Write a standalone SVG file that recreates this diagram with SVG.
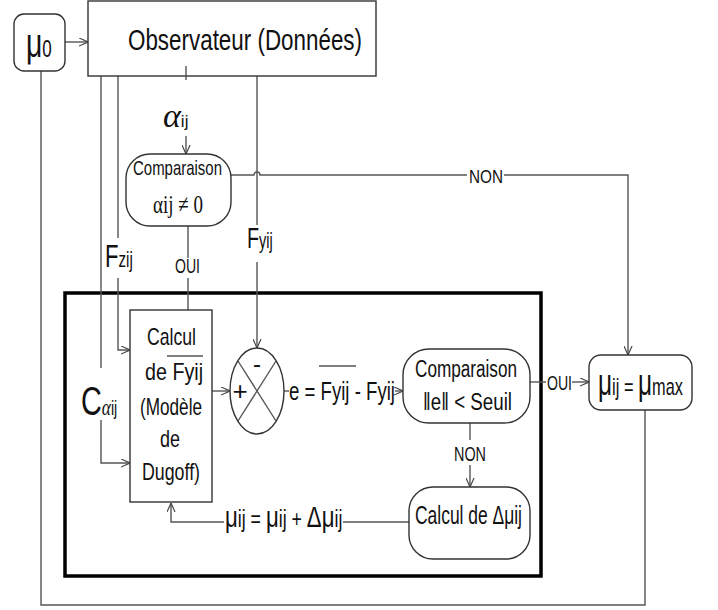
<svg xmlns="http://www.w3.org/2000/svg" width="718" height="610" viewBox="0 0 718 610">
<defs>
<marker id="arr" viewBox="0 0 10 10" refX="10" refY="5" markerWidth="9" markerHeight="9" orient="auto" markerUnits="userSpaceOnUse"><path d="M0,0.5 L10,5 L0,9.5" fill="none" stroke="#444" stroke-width="1.3"/></marker>
</defs>
<style>
.box{fill:#fff;stroke:#333;stroke-width:1.4}
.ln{fill:none;stroke:#555;stroke-width:1.4}
.ar{fill:none;stroke:#555;stroke-width:1.4;marker-end:url(#arr)}
text{font-family:"Liberation Sans",Arial,sans-serif;fill:#111}
.sr{font-family:"Liberation Serif","Times New Roman",serif}
</style>
<rect width="718" height="610" fill="#fff"/>
<g id="frame"><rect x="65" y="293" width="476" height="283" fill="none" stroke="#000" stroke-width="3.5"/></g>
<g id="connectors">
<path class="ar" d="M65,42 H88"/>
<path class="ln" d="M41,71 V605 H645 V410"/>
<path class="ln" d="M101,76 V368"/>
<path class="ar" d="M101,420 V463 H130"/>
<path class="ln" d="M118,76 V238"/>
<path class="ar" d="M118,278 V350 H130"/>
<path class="ln" d="M186,66 V80"/>
<path class="ar" d="M186,136 V154"/>
<path class="ln" d="M257,76 V225"/>
<path class="ar" d="M257,262 V348"/>
<path class="ln" d="M231,175 H254 a3,3 0 0 1 6,0 H467"/>
<path class="ar" d="M504,175 H628 V355"/>
<path class="ln" d="M188,226 V258"/>
<path class="ln" d="M188,278 V310"/>
<path class="ar" d="M212,391 H230"/>
<path class="ln" d="M284,391 H289"/>
<path class="ar" d="M395,391 H403"/>
<path class="ln" d="M530,382 H546"/>
<path class="ar" d="M572,382 H589"/>
<path class="ln" d="M470,423 V440"/>
<path class="ar" d="M470,465 V487"/>
<path class="ln" d="M409,522 H343"/>
<path class="ar" d="M224,522 H171 V503"/>
<text x="163" y="127"><tspan class="sr" font-size="34" font-style="italic">α</tspan><tspan font-size="17">ij</tspan></text>
<text transform="translate(105,267) scale(0.69,1)"><tspan font-size="32">F</tspan><tspan font-size="22">zij</tspan></text>
<text transform="translate(247,248) scale(0.66,1)"><tspan font-size="30">F</tspan><tspan font-size="22">yij</tspan></text>
<text transform="translate(81,415) scale(0.72,1)"><tspan font-size="40">C</tspan><tspan class="sr" font-size="24" font-style="italic">α</tspan><tspan font-size="20">ij</tspan></text>
<text x="486" y="183" font-size="19" text-anchor="middle" textLength="34" lengthAdjust="spacingAndGlyphs">NON</text>
<text x="175" y="273" font-size="20" textLength="25" lengthAdjust="spacingAndGlyphs">OUI</text>
<text x="547" y="390" font-size="20" textLength="25" lengthAdjust="spacingAndGlyphs">OUI</text>
<text x="454" y="461" font-size="20" textLength="32" lengthAdjust="spacingAndGlyphs">NON</text>
<text x="289" y="400" font-size="26" textLength="106" lengthAdjust="spacingAndGlyphs">e = Fyij - Fyij</text>
<path class="ln" d="M319,366 H356"/>
<text transform="translate(225,527) scale(0.74,1)"><tspan font-size="30">μ</tspan><tspan font-size="24">ij = </tspan><tspan font-size="30">μ</tspan><tspan font-size="24">ij + </tspan><tspan font-size="30">Δμ</tspan><tspan font-size="24">ij</tspan></text>
</g>
<g id="mu0"><rect class="box" x="14" y="14" width="51" height="57" rx="10"/>
<text transform="translate(26,57) scale(0.71,1)"><tspan font-size="40">μ</tspan><tspan font-size="24">0</tspan></text></g>
<g id="observateur"><rect class="box" x="88" y="1" width="288" height="75"/>
<text x="128" y="50" font-size="30" textLength="234" lengthAdjust="spacingAndGlyphs">Observateur (Données)</text>
<path class="ln" d="M186,66 V76"/></g>
<g id="comparaison1"><rect class="box" x="126" y="154" width="105" height="72" rx="24"/>
<text x="133" y="175" font-size="21" textLength="89" lengthAdjust="spacingAndGlyphs">Comparaison</text>
<text class="sr" font-size="26" transform="translate(153,213) scale(0.73,1)">αij ≠ 0</text></g>
<g id="calcul"><rect class="box" x="130" y="310" width="82" height="192"/>
<text x="147" y="345" font-size="24" textLength="49" lengthAdjust="spacingAndGlyphs">Calcul</text>
<text x="145" y="380" font-size="24" textLength="58" lengthAdjust="spacingAndGlyphs">de Fyij</text>
<path class="ln" d="M167,356 H203"/>
<text x="140" y="415" font-size="24" textLength="62" lengthAdjust="spacingAndGlyphs">(Modèle</text>
<text x="160" y="447" font-size="24" textLength="20" lengthAdjust="spacingAndGlyphs">de</text>
<text x="142" y="480" font-size="24" textLength="58" lengthAdjust="spacingAndGlyphs">Dugoff)</text></g>
<g id="sum"><ellipse cx="257" cy="391" rx="27" ry="43" fill="#fff" stroke="#333" stroke-width="1.4"/>
<path class="ln" d="M238,361 L276,421 M276,361 L238,421"/>
<text x="257" y="372" font-size="24" text-anchor="middle">-</text>
<text x="240" y="400" font-size="26" text-anchor="middle">+</text></g>
<g id="comparaison2"><rect class="box" x="403" y="349" width="127" height="74" rx="26"/>
<text x="415" y="377" font-size="23" textLength="102" lengthAdjust="spacingAndGlyphs">Comparaison</text>
<text x="423" y="410" font-size="23" textLength="89" lengthAdjust="spacingAndGlyphs">‖e‖ &lt; Seuil</text></g>
<g id="mumax"><rect class="box" x="589" y="355" width="103" height="55" rx="12"/>
<text transform="translate(598,395) scale(0.68,1)"><tspan font-size="36">μ</tspan><tspan font-size="24">ij = </tspan><tspan font-size="36">μ</tspan><tspan font-size="24">max</tspan></text></g>
<g id="deltamu"><rect class="box" x="409" y="487" width="121" height="72" rx="24"/>
<text x="415" y="524" font-size="26" textLength="107" lengthAdjust="spacingAndGlyphs">Calcul de Δμij</text></g>
</svg>
